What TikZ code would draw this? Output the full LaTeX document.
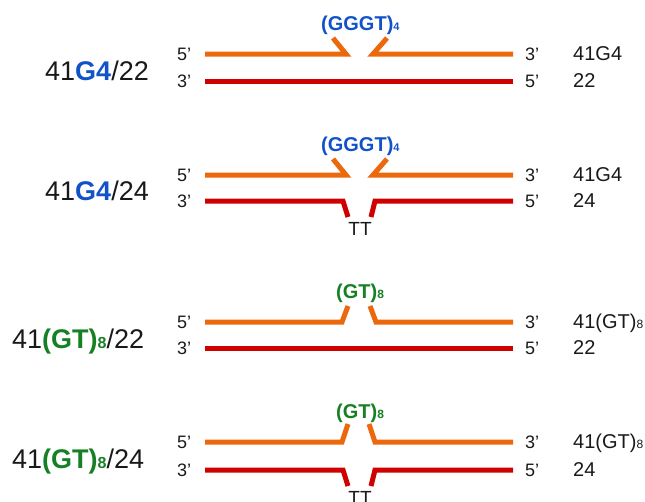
\documentclass[tikz,border=0pt]{standalone}
\usepackage{fontspec}
\setmainfont{Liberation Sans}
\definecolor{strandO}{RGB}{236,104,12}
\definecolor{strandR}{RGB}{206,0,0}
\definecolor{motifB}{RGB}{18,82,200}
\definecolor{motifG}{RGB}{22,128,36}
\definecolor{ink}{RGB}{25,25,25}
\newcommand\fsz[1]{\fontsize{#1}{#1}\selectfont}
\newcommand\tinysub[2]{{\fsz{#1}#2}}
\tikzset{
  strand/.style={line width=5pt, line cap=butt, line join=miter},
  topstrand/.style={strand, draw=strandO},
  botstrand/.style={strand, draw=strandR},
  endlbl/.style={font=\fsz{18}, text=ink, inner sep=0pt, anchor=base west},
  namelbl/.style={font=\fsz{20}, text=ink, inner sep=0pt, anchor=base west},
  duplbl/.style={font=\fsz{27}, text=ink, inner sep=0pt, anchor=base west},
  motif/.style={font=\fsz{20}\bfseries, inner sep=0pt, anchor=base west},
  ttlbl/.style={font=\fsz{19}, text=ink, inner sep=0pt, anchor=base},
}
\begin{document}
\begin{tikzpicture}[x=1pt, y=-1pt]
\useasboundingbox (0,0) rectangle (645,501);

% ---------- 41G4/22 ----------
\coordinate (a1) at (205,54);  \coordinate (a2) at (346,54);  \coordinate (a3) at (333,38);
\coordinate (a4) at (387,38);  \coordinate (a5) at (373,54);  \coordinate (a6) at (513,54);
\coordinate (b1) at (205,81);  \coordinate (b2) at (513,81);
\draw[topstrand] (a1) -- (a2) -- (a3);
\draw[topstrand] (a4) -- (a5) -- (a6);
\draw[botstrand] (b1) -- (b2);
\node[motif, text=motifB] (m1) at (321,30) {(GGGT)\tinysub{11}{4}};
\node[endlbl] (e1a) at (177,60) {5’};
\node[endlbl] (e1b) at (177,87) {3’};
\node[endlbl] (e1c) at (525,60) {3’};
\node[endlbl] (e1d) at (525,87) {5’};
\node[namelbl] (n1a) at (573,60) {41G4};
\node[namelbl] (n1b) at (573,87) {22};
\node[duplbl] (d1) at (45,80) {41{\bfseries\color{motifB}G4}/22};

% ---------- 41G4/24 ----------
\coordinate (c1) at (205,175); \coordinate (c2) at (346,175); \coordinate (c3) at (333,159);
\coordinate (c4) at (387,159); \coordinate (c5) at (373,175); \coordinate (c6) at (513,175);
\coordinate (f1) at (205,201); \coordinate (f2) at (343,201); \coordinate (f3) at (348,217);
\coordinate (f4) at (371,217); \coordinate (f5) at (375,201); \coordinate (f6) at (513,201);
\draw[topstrand] (c1) -- (c2) -- (c3);
\draw[topstrand] (c4) -- (c5) -- (c6);
\draw[botstrand] (f1) -- (f2) -- (f3);
\draw[botstrand] (f4) -- (f5) -- (f6);
\node[motif, text=motifB] (m2) at (321,151) {(GGGT)\tinysub{11}{4}};
\node[ttlbl] (t2) at (360,235) {TT};
\node[endlbl] (e2a) at (177,181) {5’};
\node[endlbl] (e2b) at (177,207) {3’};
\node[endlbl] (e2c) at (525,181) {3’};
\node[endlbl] (e2d) at (525,207) {5’};
\node[namelbl] (n2a) at (573,181) {41G4};
\node[namelbl] (n2b) at (573,207) {24};
\node[duplbl] (d2) at (45,200) {41{\bfseries\color{motifB}G4}/24};

% ---------- 41(GT)8/22 ----------
\coordinate (g1) at (205,322); \coordinate (g2) at (342,322); \coordinate (g3) at (348,306);
\coordinate (g4) at (370,306); \coordinate (g5) at (376,322); \coordinate (g6) at (513,322);
\coordinate (h1) at (205,348); \coordinate (h2) at (513,348);
\draw[topstrand] (g1) -- (g2) -- (g3);
\draw[topstrand] (g4) -- (g5) -- (g6);
\draw[botstrand] (h1) -- (h2);
\node[motif, text=motifG] (m3) at (336,298) {(GT)\tinysub{12}{8}};
\node[endlbl] (e3a) at (177,328) {5’};
\node[endlbl] (e3b) at (177,354) {3’};
\node[endlbl] (e3c) at (525,328) {3’};
\node[endlbl] (e3d) at (525,354) {5’};
\node[namelbl] (n3a) at (573,328) {41(GT)\tinysub{12}{8}};
\node[namelbl] (n3b) at (573,354) {22};
\node[duplbl] (d3) at (12,348) {41{\bfseries\color{motifG}(GT)\tinysub{16}{8}}/22};

% ---------- 41(GT)8/24 ----------
\coordinate (k1) at (205,442); \coordinate (k2) at (342,442); \coordinate (k3) at (348,424);
\coordinate (k4) at (369,424); \coordinate (k5) at (375,442); \coordinate (k6) at (513,442);
\coordinate (p1) at (205,470); \coordinate (p2) at (343,470); \coordinate (p3) at (348,486);
\coordinate (p4) at (371,486); \coordinate (p5) at (375,470); \coordinate (p6) at (513,470);
\draw[topstrand] (k1) -- (k2) -- (k3);
\draw[topstrand] (k4) -- (k5) -- (k6);
\draw[botstrand] (p1) -- (p2) -- (p3);
\draw[botstrand] (p4) -- (p5) -- (p6);
\node[motif, text=motifG] (m4) at (336,418) {(GT)\tinysub{12}{8}};
\node[ttlbl] (t4) at (360,504) {TT};
\node[endlbl] (e4a) at (177,448) {5’};
\node[endlbl] (e4b) at (177,476) {3’};
\node[endlbl] (e4c) at (525,448) {3’};
\node[endlbl] (e4d) at (525,476) {5’};
\node[namelbl] (n4a) at (573,448) {41(GT)\tinysub{12}{8}};
\node[namelbl] (n4b) at (573,476) {24};
\node[duplbl] (d4) at (12,468) {41{\bfseries\color{motifG}(GT)\tinysub{16}{8}}/24};
\end{tikzpicture}
\end{document}
